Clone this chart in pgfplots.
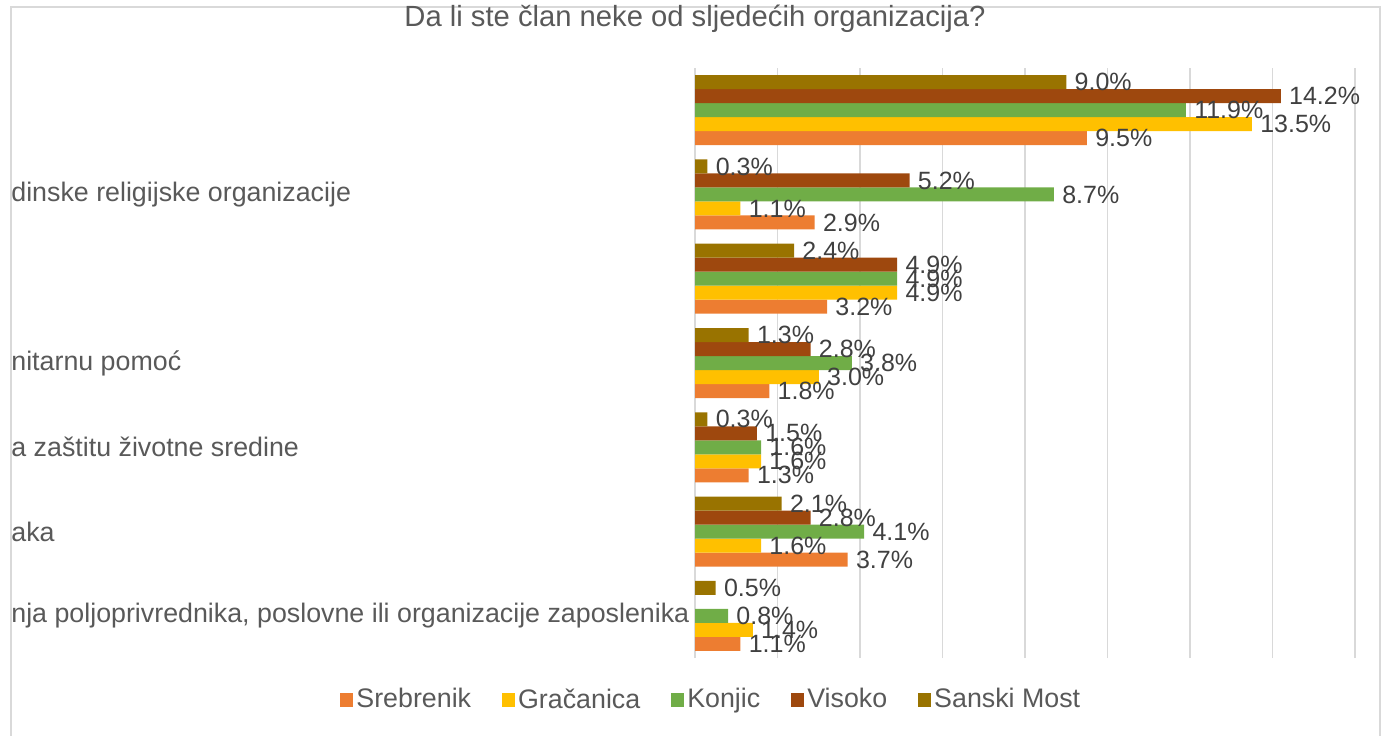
\documentclass[border=0pt]{standalone}
\usepackage{fontspec}
\setmainfont{Liberation Sans}
\usepackage{pgfplots}
\pgfplotsset{compat=1.18}

\definecolor{cSreb}{HTML}{ED7D31}
\definecolor{cGrac}{HTML}{FFC000}
\definecolor{cKonj}{HTML}{70AD47}
\definecolor{cViso}{HTML}{9E480E}
\definecolor{cSans}{HTML}{997300}
\definecolor{txtgray}{HTML}{595959}
\definecolor{lblgray}{HTML}{404040}
\definecolor{gridgray}{HTML}{D9D9D9}

\newcommand{\labelfont}{\fontsize{12.5}{14}\selectfont}
\newcommand{\catfont}{\fontsize{13.4}{15}\selectfont}
\newcommand{\titlefont}{\fontsize{14.6}{17}\selectfont}

\begin{document}
\begin{tikzpicture}
\path[use as bounding box] (0,0) rectangle (692.5pt,367.5pt);
\draw[gridgray, line width=0.8pt] (5.5pt,-3pt) -- (5.5pt,364pt) -- (690pt,364pt) -- (690pt,-3pt);
\begin{axis}[
    at={(347.5pt,38.5pt)}, anchor=south west,
    scale only axis,
    width=330pt, height=295pt,
    xbar=0pt, bar width=7pt,
    xmin=0, xmax=16, ymin=-0.5, ymax=6.5,
    xtick={0,2,...,16}, xticklabels={},
    xmajorgrids, grid style={gridgray, line width=0.8pt},
    axis line style={draw=none},
    major tick length=0pt,
    ytick={0,...,6},
    yticklabels={
        {nja poljoprivrednika, poslovne ili organizacije zaposlenika},
        {aka},
        {a zaštitu životne sredine},
        {nitarnu pomoć},
        {},
        {dinske religijske organizacije},
        {}},
    yticklabel style={anchor=west, inner sep=0pt, xshift=-342pt,
        font=\catfont, text=txtgray},
    point meta=x,
    nodes near coords={\pgfmathprintnumber[fixed, fixed zerofill, precision=1]{\pgfplotspointmeta}\%},
    nodes near coords style={font=\labelfont, text=lblgray, inner sep=2pt, xshift=2pt},
    /pgf/number format/assume math mode=true,
    title={Da li ste član neke od sljedećih organizacija?},
    every axis title shift=0pt,
    title style={at={(axis description cs:0,1.083)}, anchor=center,
        font=\titlefont, text=txtgray},
    legend image code/.code={\fill[#1] (0pt,-3.5pt) rectangle (6.5pt,3.5pt);},
    legend columns=5,
    legend style={at={(axis description cs:0.0255,-0.0708)}, anchor=center,
        draw=none, fill=none, font=\catfont, text=txtgray,
        nodes={inner sep=1.5pt},
        /tikz/every even column/.append style={column sep=14pt}},
]
\addplot[fill=cSreb, draw=none] coordinates {
    (9.5,6) (2.9,5) (3.2,4) (1.8,3) (1.3,2) (3.7,1) (1.1,0)};
\addplot[fill=cGrac, draw=none] coordinates {
    (13.5,6) (1.1,5) (4.9,4) (3.0,3) (1.6,2) (1.6,1) (1.4,0)};
\addplot[fill=cKonj, draw=none] coordinates {
    (11.9,6) (8.7,5) (4.9,4) (3.8,3) (1.6,2) (4.1,1) (0.8,0)};
\addplot[fill=cViso, draw=none] coordinates {
    (14.2,6) (5.2,5) (4.9,4) (2.8,3) (1.5,2) (2.8,1)};
\addplot[fill=cSans, draw=none] coordinates {
    (9.0,6) (0.3,5) (2.4,4) (1.3,3) (0.3,2) (2.1,1) (0.5,0)};
\legend{Srebrenik, Gračanica, Konjic, Visoko, Sanski Most}
\end{axis}
\end{tikzpicture}
\end{document}
